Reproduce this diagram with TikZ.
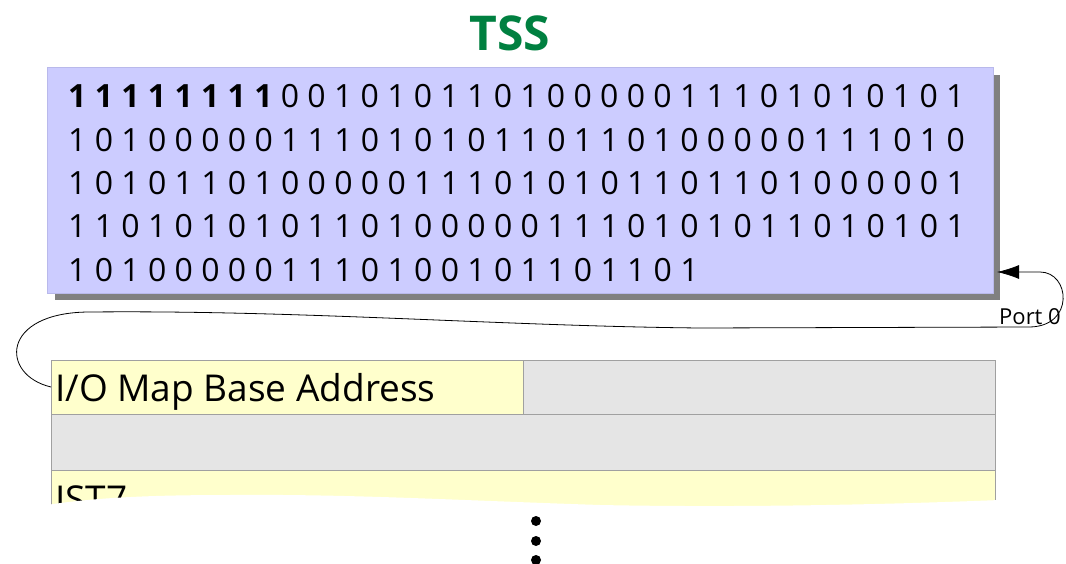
\documentclass[tikz,border=0pt]{standalone}
\usepackage{fontspec}
\setmainfont{Open Sans}
\usetikzlibrary{arrows.meta}
\definecolor{tssgreen}{RGB}{0,128,64}
\definecolor{tssblue}{RGB}{204,204,255}
\definecolor{tssborder}{RGB}{185,185,235}
\definecolor{shadowgray}{RGB}{128,128,128}
\definecolor{cellyellow}{RGB}{255,255,204}
\definecolor{cellgray}{RGB}{229,229,229}
\definecolor{cellborder}{RGB}{160,160,160}
\tikzset{
  bits/.style={anchor=base west, inner sep=0pt, font=\fontsize{32}{32}\selectfont},
  cell/.style={draw=cellborder, line width=0.8pt},
  celltext/.style={anchor=base west, inner sep=0pt, font=\fontsize{37}{37}\selectfont},
  conn/.style={draw=black, line width=0.8pt},
}
\begin{document}
\begin{tikzpicture}[x=1pt,y=-1pt]
\useasboundingbox (0,0) rectangle (1066,564);
% title
\node[font=\fontsize{48}{48}\bfseries\selectfont, text=tssgreen, inner sep=0pt] (title) at (510,33) {TSS};
% shadow and box
\fill[shadowgray] (55,75) rectangle (1000,300);
\draw[fill=tssblue, draw=tssborder, line width=0.8pt] (47,67) rectangle (993,293);
\node[inner sep=0pt] (tss) at (520,180) {};
\coordinate (tssport) at (997,272);
% bit rows
\node[bits] (r1) at (68,108) {\textbf{1 1 1 1 1 1 1 1} 0 0 1 0 1 0 1 1 0 1 0 0 0 0 0 1 1 1 0 1 0 1 0 1 0 1};
\node[bits] (r2) at (68,152) {1 0 1 0 0 0 0 0 1 1 1 0 1 0 1 0 1 1 0 1 1 0 1 0 0 0 0 0 1 1 1 0 1 0};
\node[bits] (r3) at (68,195) {1 0 1 0 1 1 0 1 0 0 0 0 0 1 1 1 0 1 0 1 0 1 1 0 1 1 0 1 0 0 0 0 0 1};
\node[bits] (r4) at (68,238) {1 1 0 1 0 1 0 1 0 1 1 0 1 0 0 0 0 0 1 1 1 0 1 0 1 0 1 1 0 1 0 1 0 1};
\node[bits] (r5) at (68,281) {1 0 1 0 0 0 0 0 1 1 1 0 1 0 0 1 0 1 1 0 1 1 0 1};
% table cells
\draw[cell, fill=cellyellow] (51,470) rectangle (995,530);
\node[celltext] (ist) at (55,512) {IST7};
\draw[cell, fill=cellgray] (51,414) rectangle (995,470);
\draw[cell, fill=cellgray] (523,360) rectangle (995,414);
\draw[cell, fill=cellyellow] (51,360) rectangle (523,414);
\node[celltext] (iotext) at (55,401) {I/O Map Base Address};
\coordinate (io) at (51,387);
% torn edge
\fill[white] (0,514) .. controls (60,500) and (120,495) .. (230,495)
  .. controls (350,494) and (450,500) .. (600,505)
  .. controls (750,508) and (900,504) .. (1000,500)
  -- (1066,500) -- (1066,564) -- (0,564) -- cycle;
% dots
\foreach \yy/\nm in {521/d1,541/d2,560/d3}
  \fill (536,\yy) circle (5pt);
% connector
\draw[conn, -{Latex[length=22pt,width=14pt]}] (io)
  .. controls (0,375) and (0,312) .. (90,312)
  .. controls (300,310) and (500,326) .. (700,328)
  -- (1030,327)
  .. controls (1075,326) and (1070,272) .. (1040,272)
  -- (tssport);
\node[font=\fontsize{22}{22}\selectfont, anchor=base east, inner sep=0pt] (port) at (1061,324) {Port 0};
\end{tikzpicture}
\end{document}
